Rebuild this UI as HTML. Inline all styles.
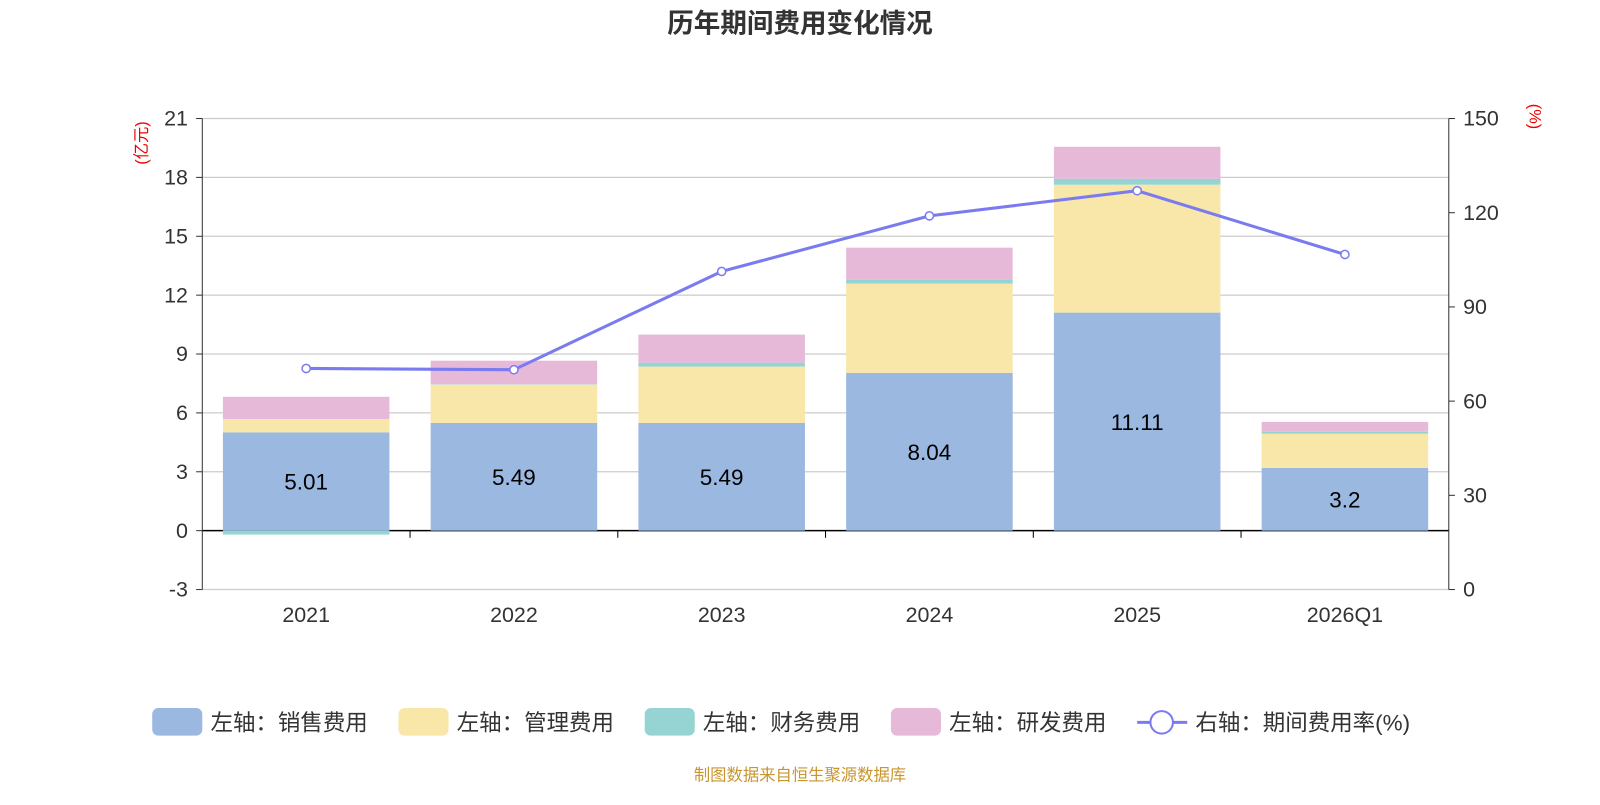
<!DOCTYPE html>
<html><head><meta charset="utf-8"><style>
body{margin:0;background:#fff;}
svg text{font-family:"Liberation Sans","Noto Sans CJK SC",sans-serif;}
</style></head><body>
<svg id="chart" width="1600" height="800" viewBox="0 0 1566 783" preserveAspectRatio="none" xmlns="http://www.w3.org/2000/svg">
<text x="783" y="32" text-anchor="middle" font-size="26" font-weight="bold" fill="#333">历年期间费用变化情况</text>
<text transform="translate(144,140) rotate(-90)" text-anchor="middle" font-size="16" fill="#e00">(亿元)</text>
<text transform="translate(1497,114) rotate(90)" text-anchor="middle" font-size="16" fill="#e00">(%)</text>
<g id="grid"></g><g id="bars"></g><g id="axes"></g><g id="line"></g>
<g font-size="22" fill="#333">
<rect x="149" y="693" width="49" height="27" rx="6" fill="#9bb8e0"/><text x="206" y="715">左轴：销售费用</text>
<rect x="390" y="693" width="49" height="27" rx="6" fill="#f8e7a9"/><text x="447" y="715">左轴：管理费用</text>
<rect x="631" y="693" width="49" height="27" rx="6" fill="#96d4d4"/><text x="688" y="715">左轴：财务费用</text>
<rect x="872" y="693" width="49" height="27" rx="6" fill="#e6b9d9"/><text x="929" y="715">左轴：研发费用</text>
<g><line x1="1113" y1="707" x2="1162" y2="707" stroke="#7b7bf0" stroke-width="3"/><circle cx="1137" cy="707" r="11" fill="#fff" stroke="#7b7bf0" stroke-width="2"/></g><text x="1170" y="715">右轴：期间费用率(%)</text>
</g>
<text x="783" y="764" text-anchor="middle" font-size="16" fill="#c8962e">制图数据来自恒生聚源数据库</text>
</svg>
<script>
const categories=["2021","2022","2023","2024","2025","2026Q1"];
const sales=[5.01,5.49,5.49,8.04,11.11,3.2];
const admin=[0.68,1.95,2.87,4.55,6.52,1.74];
const finance=[-0.2,0.02,0.2,0.2,0.3,0.1];
const rd=[1.13,1.2,1.43,1.63,1.63,0.5];
const rate=[70.4,70,101.3,119,127,106.7];
const leftTicks=[-3,0,3,6,9,12,15,18,21];
const rightTicks=[0,30,60,90,120,150];
const NS="http://www.w3.org/2000/svg";
const X0=198,X1=1418,YT=116,YB=577;
const yL=v=>YB-(v+3)/24*(YB-YT);
const yR=v=>YB-v/150*(YB-YT);
const bw=(X1-X0)/categories.length;
const xC=i=>X0+bw*(i+0.5);
function mk(tag,attrs,parent,text){const e=document.createElementNS(NS,tag);for(const k in attrs)e.setAttribute(k,attrs[k]);if(text!==undefined)e.textContent=text;document.getElementById(parent).appendChild(e);return e;}
leftTicks.forEach(t=>{
 const g=mk('line',{x1:X0,x2:X1,y1:yL(t),y2:yL(t),stroke:t===0?'#000':'#ccc','stroke-width':t===0?1.5:1.2},'grid');
 
 
 mk('line',{x1:X0-6,x2:X0,y1:yL(t),y2:yL(t),stroke:'#333'},'axes');
 const l=mk('text',{x:X0-14,y:yL(t)+7,'text-anchor':'end','font-size':21,fill:'#333'},'axes',t);
 
 
});
rightTicks.forEach(t=>{
 mk('line',{x1:X1,x2:X1+6,y1:yR(t),y2:yR(t),stroke:'#333'},'axes');
 const l=mk('text',{x:X1+14,y:yR(t)+7,'font-size':21,fill:'#333'},'axes',t);
 
 
});
mk('line',{x1:X0,x2:X0,y1:YT,y2:YB,stroke:'#333'},'axes');
mk('line',{x1:X1,x2:X1,y1:YT,y2:YB,stroke:'#333'},'axes');
for(let i=1;i<categories.length;i++)mk('line',{x1:X0+bw*i,x2:X0+bw*i,y1:yL(0),y2:yL(0)+7,stroke:'#000'},'axes');
const BW=163;
categories.forEach((c,i)=>{
 const l=mk('text',{x:xC(i),y:609,'text-anchor':'middle','font-size':21,fill:'#333'},'axes',c);
 
 
 let pos=0,neg=0;
 [[sales,'#9bb8e0','sales'],[admin,'#f8e7a9','admin'],[finance,'#96d4d4','finance'],[rd,'#e6b9d9','rd']].forEach(([arr,col,nm])=>{
  const v=arr[i];let a,b;
  if(v>=0){a=pos;b=pos+v;pos=b;}else{a=neg;b=neg+v;neg=b;}
  const r=mk('rect',{x:xC(i)-BW/2,y:Math.min(yL(a),yL(b)),width:BW,height:Math.abs(yL(a)-yL(b)),fill:col},'bars');
  
  
 });
 const t=mk('text',{x:xC(i),y:yL(sales[i]/2)+8,'text-anchor':'middle','font-size':22,fill:'#000'},'bars',sales[i]);
 
 
});
const pl=mk('polyline',{points:rate.map((v,i)=>xC(i)+','+yR(v)).join(' '),fill:'none',stroke:'#7b7bf0','stroke-width':3},'line');


rate.forEach((v,i)=>{
 const p=mk('circle',{cx:xC(i),cy:yR(v),r:4,fill:'#fff',stroke:'#7b7bf0','stroke-width':1.5},'line');
 
 
});
</script>
</body></html>
